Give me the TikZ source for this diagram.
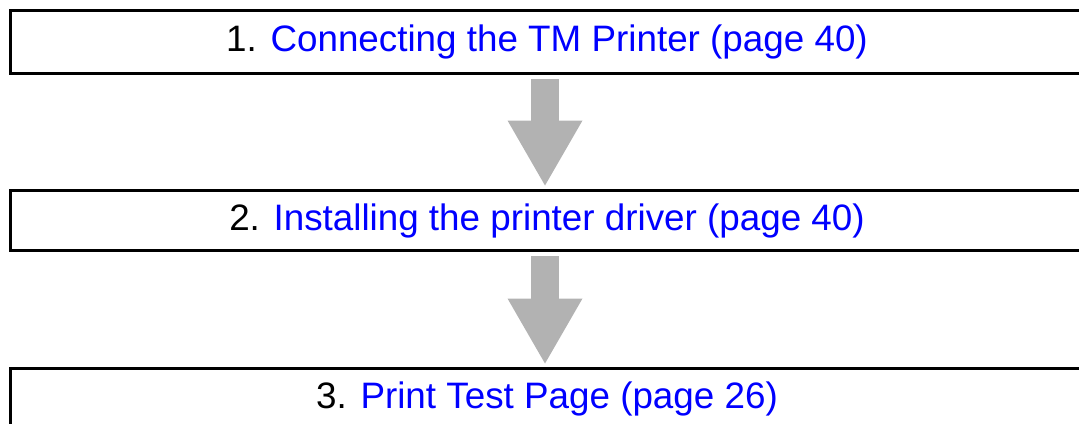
\documentclass[tikz,border=0pt]{standalone}
\usepackage{fontspec}
\setmainfont{Liberation Sans}
\usetikzlibrary{arrows.meta}
\definecolor{arrowgray}{RGB}{178,178,178}
\definecolor{linkblue}{RGB}{0,0,255}
\begin{document}
\begin{tikzpicture}[x=0.5pt, y=-0.5pt,
  stepbox/.style={draw, line width=1.5pt, minimum width=537pt, minimum height=30pt, inner sep=0pt, font=\fontsize{18.4}{22}\selectfont},
  flow/.style={arrowgray, line width=14pt, -{Triangle[line width=0pt, width=37.5pt, length=32.5pt]}, shorten <=2pt, shorten >=1.75pt}]
\useasboundingbox (0,0) rectangle (1079,423);
\clip (0,0) rectangle (1079,423);
\node[stepbox, minimum height=31.75pt] (s1) at (547,41.75) {1. \textcolor{linkblue}{Connecting the TM Printer (page 40)}};
\node[stepbox] (s2) at (547,220.5) {2. \textcolor{linkblue}{Installing the printer driver (page 40)}};
\node[stepbox] (s3) at (547,398.5) {3. \textcolor{linkblue}{Print Test Page (page 26)}};

\draw[flow] ([xshift=-1pt]s1.south) -- ([xshift=-1pt]s2.north);
\draw[flow] ([xshift=-1pt]s2.south) -- ([xshift=-1pt]s3.north);
\end{tikzpicture}
\end{document}
